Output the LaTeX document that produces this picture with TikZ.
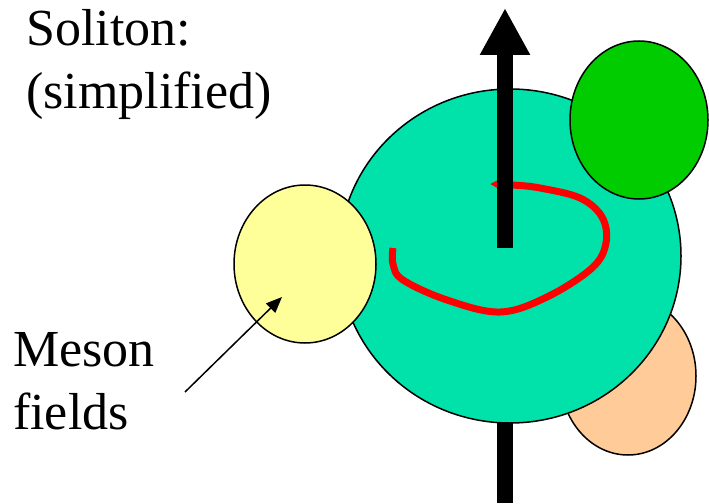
\documentclass[tikz,border=0pt]{standalone}
\usepackage{fontspec}
\setmainfont{Liberation Serif}
\usepackage{tikz}
\usetikzlibrary{arrows.meta, shapes.geometric}

\definecolor{spherecol}{RGB}{0,226,170}
\definecolor{mesonyellow}{RGB}{255,255,153}
\definecolor{mesongreen}{RGB}{0,204,0}
\definecolor{mesonpeach}{RGB}{255,204,153}

\begin{document}
\begin{tikzpicture}[x=1pt, y=-1pt,
  blob/.style={ellipse, draw=black, line width=1.5pt, inner sep=0pt, outer sep=0pt},
  label/.style={align=left, anchor=north west, inner sep=0pt, font=\fontsize{52}{63}\selectfont}]
\useasboundingbox (0,0) rectangle (709,503);

% Spin axis, lower part (behind the soliton)
\coordinate (spinbase) at (505,503);
\coordinate (spinlow) at (505,300);
\draw[line width=16pt] (spinbase) -- (spinlow);

% Meson fields behind and the soliton
\node[blob, fill=mesonpeach, minimum width=136pt, minimum height=158pt] (peach) at (628,376) {};
\node[blob, fill=spherecol, minimum width=342pt, minimum height=334pt] (soliton) at (510,256) {};

% Rotation
\draw[red, line width=7pt, -{Triangle[length=15pt, width=15pt]}] plot[smooth, tension=0.6] coordinates
  {(393,248) (393,264) (403,280) (447,300) (500,312) (547,297) (592,268) (606,243) (602,217) (580,198) (540,188) (513,185) (490,184)};

% Spin axis, upper part
\coordinate (spin) at (505,248);
\coordinate (spintop) at (505,8);
\draw[line width=16pt, -{Triangle[length=47pt, width=47pt]}] (spin) -- (spintop);

% Meson fields in front
\node[blob, fill=mesonyellow, minimum width=142pt, minimum height=158pt] (yellow) at (305,264) {};
\node[blob, fill=mesongreen, minimum width=138pt, minimum height=158pt] (green) at (639,120) {};

% Labels
\node[label] (title) at (26,9) {Soliton:\\(simplified)};
\node[label] (mesontext) at (13,332) {Meson\\fields};
\coordinate (pointertail) at (185,392);
\coordinate (pointerhead) at (282,297);
\draw[line width=1.5pt, -{Triangle[length=16pt, width=13pt]}] (pointertail) -- (pointerhead);

\end{tikzpicture}
\end{document}
